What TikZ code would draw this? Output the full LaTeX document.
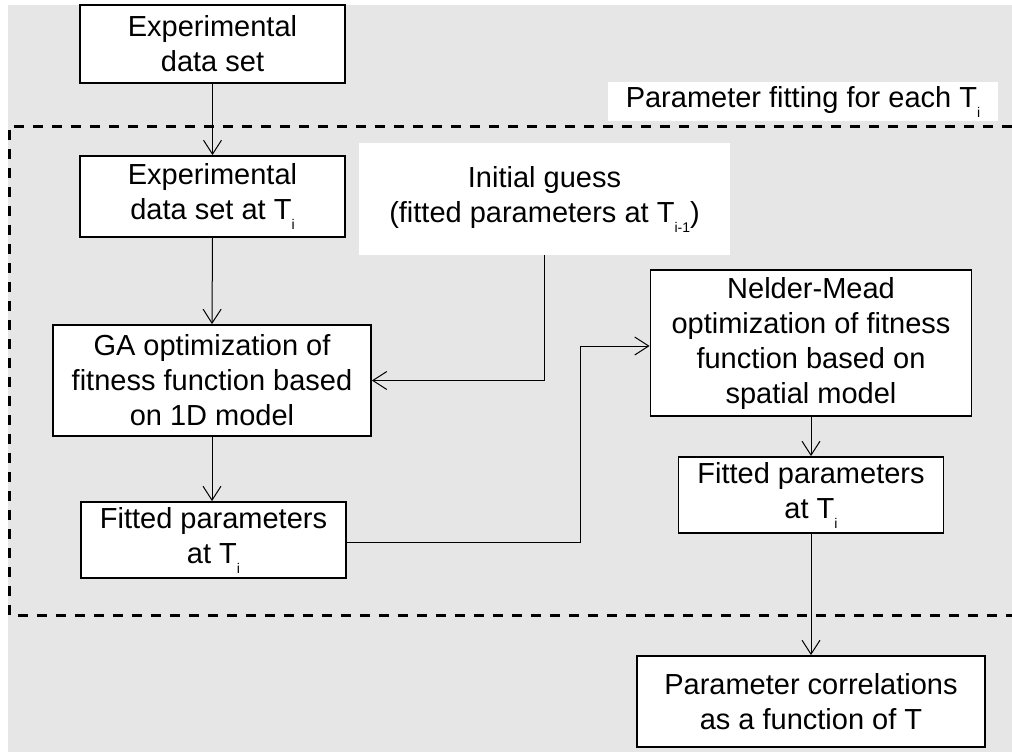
\documentclass[tikz,border=0pt]{standalone}
\usepackage{fontspec}
\setmainfont{Liberation Sans}
\usetikzlibrary{arrows.meta,calc}
\definecolor{bg}{HTML}{E6E6E6}
\newcommand{\subi}[1]{\raisebox{-10pt}{\fontsize{14}{14}\selectfont #1}}
\begin{document}
\begin{tikzpicture}[x=1pt,y=-1pt,
  box/.style={draw, line width=1.8pt, fill=white, align=center, inner sep=0pt,
    font=\fontsize{29}{35}\selectfont},
  plain/.style={fill=white, align=center, inner sep=0pt,
    font=\fontsize{29}{35}\selectfont},
  conn/.style={line width=1pt, -{Straight Barb[length=14pt,width=18pt]}},
  dashbox/.style={line width=3pt, dash pattern=on 10pt off 9pt}]
\useasboundingbox (0,0) rectangle (1012,752);
\fill[bg] (8,5) rectangle (1012,752);
% dashed frame
\coordinate (dtr) at (1012,126);
\coordinate (dtl) at (9,126);
\coordinate (dbl) at (9,615);
\coordinate (dbr) at (1012,615);
\draw[dashbox] (dtr) -- (dtl) -- (dbl) -- (dbr);
\node[plain, minimum width=390pt, minimum height=39pt] (lab) at (803,101.5) {Parameter fitting for each T\subi{i}};
% boxes
\node[box, minimum width=265pt, minimum height=78pt] (b1) at (212.5,44) {Experimental\\data set};
\node[box, minimum width=265pt, minimum height=81pt] (b2) at (212.5,196.5) {Experimental\\data set at T\subi{i}};
\node[plain, minimum width=371pt, minimum height=112pt] (ig) at (544.5,199) {Initial guess\\(fitted parameters at T\subi{i-1})};
\node[box, minimum width=318pt, minimum height=111pt] (ga) at (212,380.5) {GA optimization of\\fitness function based\\on 1D model};
\node[box, minimum width=265pt, minimum height=76pt] (fl) at (213.5,540) {Fitted parameters\\at T\subi{i}};
\node[box, minimum width=321pt, minimum height=146pt] (nm) at (811,343) {Nelder-Mead\\optimization of fitness\\function based on\\spatial model};
\node[box, minimum width=265pt, minimum height=76pt] (fr) at (811,495) {Fitted parameters\\at T\subi{i}};
\node[box, minimum width=348pt, minimum height=91pt] (pc) at (811,701.5) {Parameter correlations\\as a function of T};
% connectors
\draw[conn] (b1.south) -- (b2.north);
\draw[conn] (b2.south) -- (ga.north);
\draw[conn] (ga.south) -- (ga.south |- fl.north);
\draw[conn] (ig.south) |- (ga.east);
\coordinate (turn) at (580,346);
\draw[conn] ($(fl.east)+(0,2)$) -| (turn) -- (nm.west |- turn);
\draw[conn] (nm.south) -- (fr.north);
\draw[conn] (fr.south) -- (pc.north);
\end{tikzpicture}
\end{document}
